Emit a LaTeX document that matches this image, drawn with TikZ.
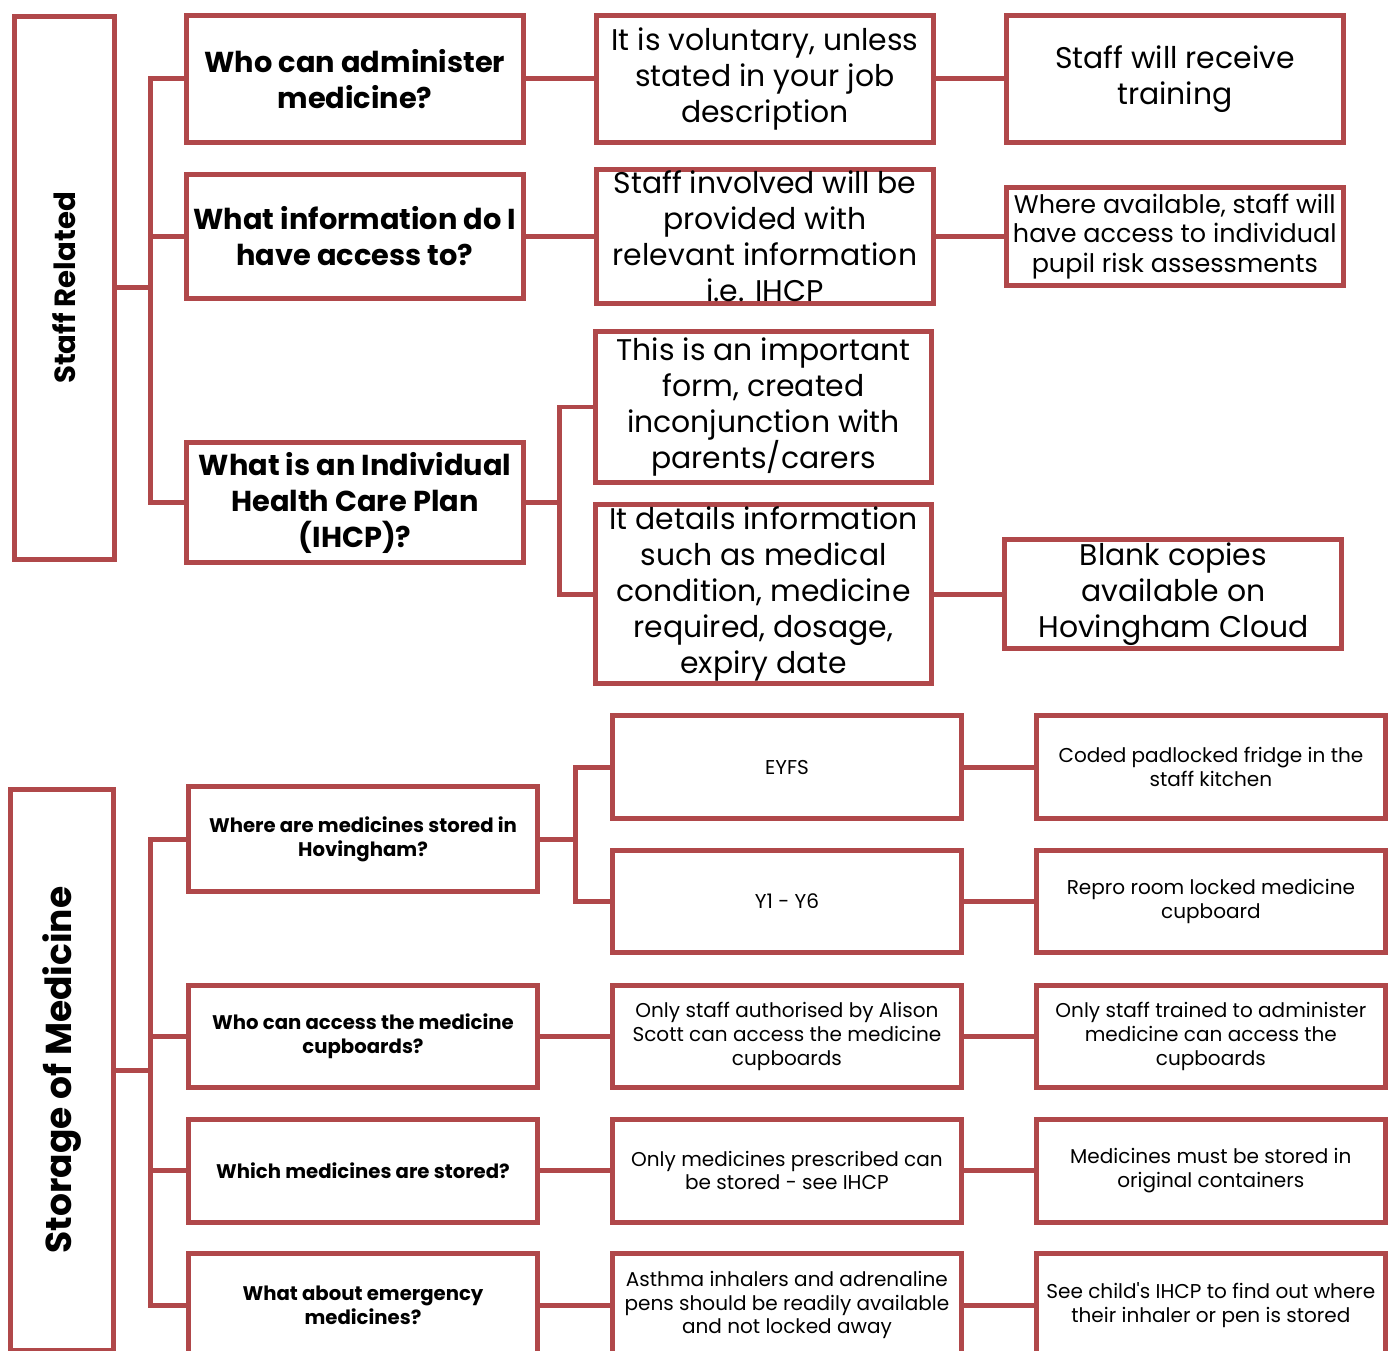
\documentclass[tikz,border=0pt]{standalone}
\usepackage{fontspec}
\setmainfont{Poppins}
\usetikzlibrary{positioning}
\definecolor{brick}{HTML}{B0484A}

\begin{document}
\begin{tikzpicture}[x=0.02cm,y=-0.02cm,node distance=1.36cm,
    box/.style={draw=brick,line width=0.1cm,fill=white,align=center,inner sep=1pt},
    big/.style={box,font=\fontsize{17}{20.5}\selectfont,minimum width=6.74cm},
    bigq/.style={big,font=\fontsize{16.4}{20.5}\selectfont\bfseries},
    small/.style={box,font=\fontsize{11.4}{13.6}\selectfont,minimum width=6.98cm,minimum height=2.06cm},
    smallq/.style={small,font=\fontsize{11.2}{13.6}\selectfont\bfseries},
    side/.style={box,rotate=90},
    link/.style={draw=brick,line width=0.1cm}]
  \clip (0,0) rectangle (1396,1351);
  \fill[white] (0,0) rectangle (1396,1351);

  % staff related
  \node[side,minimum width=10.86cm,minimum height=2cm,font=\fontsize{16.6}{20}\selectfont\bfseries] (staff) at (64.5,288) {Staff Related};
  \node[bigq,minimum height=2.54cm] (who) at (355,79) {Who can administer\\medicine?};
  \node[bigq,minimum height=2.48cm] (info) at (355,236.5) {What information do I\\have access to?};
  \node[bigq,minimum height=2.4cm] (ihcp) at (355,502.5) {What is an Individual\\Health Care Plan\\(IHCP)?};
  \node[big,minimum height=2.54cm,right=of who] (vol) {It is voluntary, unless\\stated in your job\\description};
  \node[big,minimum height=2.54cm,right=of vol] (train) {Staff will receive\\training};
  \node[big,minimum height=2.48cm,right=of info] (given) {Staff involved will be\\provided with\\relevant information\\i.e. IHCP};
  \node[big,minimum height=1.98cm,right=of given,font=\fontsize{14.5}{17}\selectfont] (risk) {Where available, staff will\\have access to individual\\pupil risk assessments};
  \node[big,minimum height=3.02cm] (form) at (763.5,407) {This is an important\\form, created\\inconjunction with\\parents/carers};
  \node[big,minimum height=3.26cm] (detail) at (763.5,594) {It details information\\such as medical\\condition, medicine\\required, dosage,\\expiry date};
  \node[big,minimum height=2.2cm,right=of detail] (blank) {Blank copies\\available on\\Hovingham Cloud};

  % storage of medicine
  \node[side,minimum width=11.22cm,minimum height=2.06cm,font=\fontsize{20.5}{24}\selectfont\bfseries] (store) at (62,1070) {Storage of Medicine};
  \node[smallq,minimum height=2.1cm] (where) at (363,839) {Where are medicines stored in\\Hovingham?};
  \node[smallq] (access) at (363,1036.5) {Who can access the medicine\\cupboards?};
  \node[smallq] (which) at (363,1170.5) {Which medicines are stored?};
  \node[smallq] (emerg) at (363,1305) {What about emergency\\medicines?};
  \node[small] (eyfs) at (787,767) {EYFS};
  \node[small] (years) at (787,901.5) {Y1 - Y6};
  \node[small,right=1.4cm of access] (auth) {Only staff authorised by Alison\\Scott can access the medicine\\cupboards};
  \node[small,right=1.4cm of which] (presc) {Only medicines prescribed can\\be stored - see IHCP};
  \node[small,right=1.4cm of emerg] (asthma) {Asthma inhalers and adrenaline\\pens should be readily available\\and not locked away};
  \node[small,right=1.4cm of eyfs] (fridge) {Coded padlocked fridge in the\\staff kitchen};
  \node[small,right=1.4cm of years] (repro) {Repro room locked medicine\\cupboard};
  \node[small,right=1.4cm of auth] (trained) {Only staff trained to administer\\medicine can access the\\cupboards};
  \node[small,right=1.4cm of presc] (orig) {Medicines must be stored in\\original containers};
  \node[small,right=1.4cm of asthma] (seechild) {See child\textquotesingle s IHCP to find out where\\their inhaler or pen is stored};

  % connectors
  \coordinate (hubA) at (150,288);
  \coordinate (hubB) at (559,502.5);
  \coordinate (hubC) at (150,1070);
  \coordinate (hubD) at (575,839);
  \draw[link] (staff) -- (hubA);
  \foreach \v in {who,info,ihcp}{\draw[link] (hubA) |- (\v.west);}
  \draw[link] (ihcp) -- (hubB);
  \foreach \v in {form,detail}{\draw[link] (hubB) |- (\v.west);}
  \draw[link] (store) -- (hubC);
  \foreach \v in {where,access,which,emerg}{\draw[link] (hubC) |- (\v.west);}
  \draw[link] (where) -- (hubD);
  \foreach \v in {eyfs,years}{\draw[link] (hubD) |- (\v.west);}
  \foreach \u/\v in {who/vol,vol/train,info/given,given/risk,detail/blank,eyfs/fridge,years/repro,access/auth,auth/trained,which/presc,presc/orig,emerg/asthma,asthma/seechild}{\draw[link] (\u) -- (\v);}
\end{tikzpicture}
\end{document}
